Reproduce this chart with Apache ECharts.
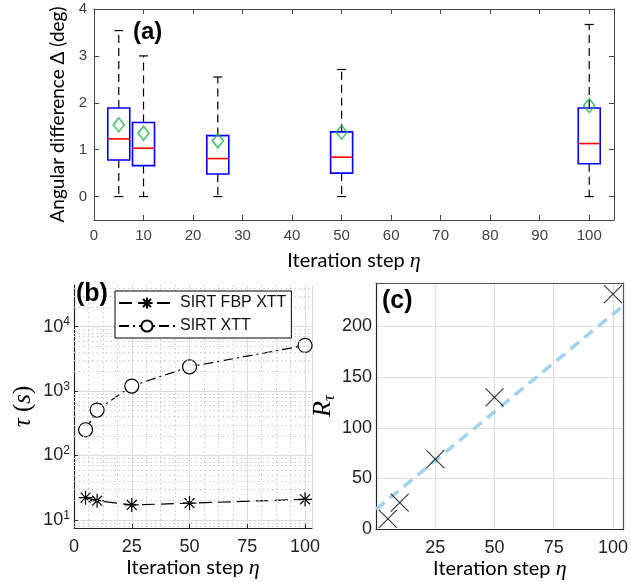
<!DOCTYPE html>
<html>
<head>
<meta charset="utf-8">
<script src="https://cdn.jsdelivr.net/npm/echarts@6/dist/echarts.min.js"></script>
<style>
html,body{margin:0;padding:0;background:#fff;}
#main{width:631px;height:582px;}
</style>
</head>
<body>
<div id="main"></div>
<script>
// ---- Panel (a): box plot statistics ----
const boxX    = [5, 10, 25, 50, 100];
const boxMin  = [0, 0, 0, 0, 0];
const boxQ1   = [0.78, 0.66, 0.48, 0.50, 0.70];
const boxMed  = [1.23, 1.03, 0.81, 0.84, 1.13];
const boxQ3   = [1.89, 1.58, 1.30, 1.38, 1.89];
const boxMax  = [3.54, 3.00, 2.55, 2.71, 3.67];
const boxMean = [1.53, 1.35, 1.19, 1.37, 1.94];
const aYTicks = [0, 1, 2, 3, 4];

// ---- Panel (b): computation time ----
const etaSteps = [5, 10, 25, 50, 100];
const tauFbpXtt = [22.2, 19.9, 17.1, 18.2, 20.9];
const tauSirtXtt = [251, 507, 1197, 2383, 5117];
const tauMajor = [10, 100, 1000, 10000];
const tauMinor = [8, 9, 20, 30, 40, 50, 60, 70, 80, 90, 200, 300, 400, 500, 600, 700, 800, 900,
                  2000, 3000, 4000, 5000, 6000, 7000, 8000, 9000, 20000, 30000, 40000];

// ---- Panel (c): ratio ----
const ratioVals = [10, 26, 69, 130, 232];
const fitX = [0, 104.5];
const fitY = [19.3, 221];

const chart = echarts.init(document.getElementById('main'), null, {renderer: 'canvas'});

const tickFont = 'Liberation Sans';
const nameFont = 'Lato';

const xNameRich = {
  t: {fontFamily: nameFont, fontSize: 20, color: '#000'},
  e: {fontFamily: 'Liberation Serif', fontStyle: 'italic', fontSize: 22, color: '#000'}
};

const boxData = boxX.map((x, i) => [x, boxMin[i], boxQ1[i], boxMed[i], boxQ3[i], boxMax[i]]);

function renderBox(params, api) {
  const x = api.value(0);
  const pMin = api.coord([x, api.value(1)]);
  const pQ1 = api.coord([x, api.value(2)]);
  const pMed = api.coord([x, api.value(3)]);
  const pQ3 = api.coord([x, api.value(4)]);
  const pMax = api.coord([x, api.value(5)]);
  const half = 11, cap = 4.5;
  const cx = pMed[0];
  const dash = {stroke: '#000', lineWidth: 1.2, lineDash: [8, 5]};
  const solid = {stroke: '#000', lineWidth: 1.2};
  return {
    type: 'group',
    children: [
      {type: 'line', shape: {x1: cx, y1: pQ3[1], x2: cx, y2: pMax[1]}, style: dash},
      {type: 'line', shape: {x1: cx, y1: pQ1[1], x2: cx, y2: pMin[1]}, style: dash},
      {type: 'line', shape: {x1: cx - cap, y1: pMax[1], x2: cx + cap, y2: pMax[1]}, style: solid},
      {type: 'line', shape: {x1: cx - cap, y1: pMin[1], x2: cx + cap, y2: pMin[1]}, style: solid},
      {type: 'rect', shape: {x: cx - half, y: pQ3[1], width: 2 * half, height: pQ1[1] - pQ3[1]},
        style: {fill: '#fff', stroke: '#0000ff', lineWidth: 1.6}},
      {type: 'line', shape: {x1: cx - half, y1: pMed[1], x2: cx + half, y2: pMed[1]},
        style: {stroke: '#ff0000', lineWidth: 1.6}}
    ]
  };
}

const asterisk = 'path://M0,-10L0,10M-10,0L10,0M-7.07,-7.07L7.07,7.07M-7.07,7.07L7.07,-7.07';
const cross = 'path://M-10,-10L10,10M-10,10L10,-10';

const option = {
  backgroundColor: '#fff',
  animation: false,
  grid: [
    {left: 94, top: 9, width: 520, height: 211},
    {left: 74, top: 285, width: 238, height: 243},
    {left: 376, top: 283, width: 252, height: 246}
  ],
  legend: {
    data: ['SIRT FBP XTT', 'SIRT XTT'],
    left: 115, top: 291,
    orient: 'vertical',
    itemWidth: 56, itemHeight: 14, itemGap: 7,
    padding: [4, 5, 4, 3],
    borderColor: '#000', borderWidth: 1, backgroundColor: '#fff',
    textStyle: {fontFamily: tickFont, fontSize: 16, color: '#111'},
    z: 10
  },
  xAxis: [
    { // (a) bottom
      gridIndex: 0, type: 'value', min: 0, max: 105, interval: 10,
      axisLine: {show: true, onZero: false, lineStyle: {color: '#444', width: 1}},
      axisTick: {show: true, inside: true, length: 5, lineStyle: {color: '#444'}},
      axisLabel: {fontFamily: tickFont, fontSize: 15, color: '#404040', margin: 8, showMaxLabel: false},
      splitLine: {show: false},
      name: '{t|Iteration step }{e|η}', nameLocation: 'middle', nameGap: 30,
      nameTextStyle: {rich: xNameRich}
    },
    { // (a) top frame
      gridIndex: 0, type: 'value', min: 0, max: 105, interval: 10, position: 'top',
      axisLine: {show: true, onZero: false, lineStyle: {color: '#444', width: 1}},
      axisTick: {show: true, inside: true, length: 5, lineStyle: {color: '#444'}},
      axisLabel: {show: false}, splitLine: {show: false}
    },
    { // (b)
      gridIndex: 1, type: 'value', min: 0, max: 103, interval: 25,
      axisLine: {show: true, onZero: false, lineStyle: {color: '#262626', width: 1.2}},
      axisTick: {show: true, inside: true, length: 4, lineStyle: {color: '#262626'}},
      minorTick: {show: false, splitNumber: 4},
      minorSplitLine: {show: true, lineStyle: {color: '#c8c8c8', type: [1.5, 3], width: 1}},
      axisLabel: {fontFamily: tickFont, fontSize: 18, color: '#222', margin: 10, showMaxLabel: false},
      splitLine: {show: true, lineStyle: {color: '#dcdcdc', width: 1}},
      name: '{t|Iteration step }{e|η}', nameLocation: 'middle', nameGap: 22,
      nameTextStyle: {rich: xNameRich}
    },
    { // (c) bottom
      gridIndex: 2, type: 'value', min: 0, max: 104.5, interval: 25,
      axisLine: {show: true, onZero: false, lineStyle: {color: '#262626', width: 1.2}},
      axisTick: {show: false},
      axisLabel: {fontFamily: tickFont, fontSize: 18, color: '#222', margin: 10, showMaxLabel: false, showMinLabel: false},
      splitLine: {show: true, lineStyle: {color: '#dcdcdc', width: 1}},
      name: '{t|Iteration step }{e|η}', nameLocation: 'middle', nameGap: 22,
      nameTextStyle: {rich: xNameRich}
    },
    { // (c) top frame
      gridIndex: 2, type: 'value', min: 0, max: 104.5, position: 'top',
      axisLine: {show: true, onZero: false, lineStyle: {color: '#555', width: 1.2}},
      axisTick: {show: false}, axisLabel: {show: false}, splitLine: {show: false}
    }
  ],
  yAxis: [
    { // (a) left
      gridIndex: 0, type: 'value', min: -0.5, max: 4,
      axisLine: {show: true, onZero: false, lineStyle: {color: '#444', width: 1}},
      axisTick: {show: true, inside: true, length: 5, lineStyle: {color: '#444'}, customValues: aYTicks},
      axisLabel: {fontFamily: tickFont, fontSize: 15, color: '#404040', margin: 7, customValues: aYTicks},
      splitLine: {show: false},
      name: 'Angular difference Δ (deg)', nameLocation: 'middle', nameGap: 21, nameRotate: 90,
      nameTextStyle: {fontFamily: nameFont, fontSize: 19, color: '#000'}
    },
    { // (a) right frame
      gridIndex: 0, type: 'value', min: -0.5, max: 4, position: 'right',
      axisLine: {show: true, onZero: false, lineStyle: {color: '#444', width: 1}},
      axisTick: {show: true, inside: true, length: 5, lineStyle: {color: '#444'}, customValues: aYTicks},
      axisLabel: {show: false}, splitLine: {show: false}
    },
    { // (b) log
      gridIndex: 1, type: 'log', logBase: 10, min: 7.5, max: 44300,
      axisLine: {show: true, onZero: false, lineStyle: {color: '#262626', width: 1.2}},
      axisTick: {show: true, inside: true, length: 4, lineStyle: {color: '#262626'}, customValues: tauMajor},
      axisLabel: {
        customValues: tauMajor, margin: 4,
        formatter: v => '{b|10}{s|' + Math.round(Math.log10(v)) + '}',
        rich: {
          b: {fontFamily: tickFont, fontSize: 18, color: '#222'},
          s: {fontFamily: tickFont, fontSize: 12, color: '#222', verticalAlign: 'top', padding: [0, 0, 9, 0]}
        }
      },
      splitLine: {show: true, lineStyle: {color: '#dcdcdc', width: 1}},
      name: '{e|τ}{n| (}{e|s}{n|)}', nameLocation: 'middle', nameGap: 38, nameRotate: 90,
      nameTextStyle: {rich: {
        e: {fontFamily: 'Liberation Serif', fontStyle: 'italic', fontSize: 25, color: '#000'},
        n: {fontFamily: 'Liberation Serif', fontSize: 25, color: '#000'}
      }}
    },
    { // (c) left
      gridIndex: 2, type: 'value', min: 0, max: 243, interval: 50,
      axisLine: {show: true, onZero: false, lineStyle: {color: '#262626', width: 1.2}},
      axisTick: {show: false},
      axisLabel: {fontFamily: tickFont, fontSize: 18, color: '#222', margin: 4, showMaxLabel: false},
      splitLine: {show: true, lineStyle: {color: '#dcdcdc', width: 1}},
      name: '{r|R}{s|τ}', nameLocation: 'middle', nameGap: 36, nameRotate: 90,
      nameTextStyle: {rich: {
        r: {fontFamily: 'Liberation Serif', fontStyle: 'italic', fontSize: 26, color: '#000', lineHeight: 30},
        s: {fontFamily: 'Liberation Serif', fontStyle: 'italic', fontSize: 17, color: '#000', lineHeight: 30, verticalAlign: 'bottom', padding: [10, 0, 0, 0]}
      }}
    },
    { // (c) right frame
      gridIndex: 2, type: 'value', min: 0, max: 243, position: 'right',
      axisLine: {show: true, onZero: false, lineStyle: {color: '#555', width: 1.2}},
      axisTick: {show: false}, axisLabel: {show: false}, splitLine: {show: false}
    }
  ],
  graphic: [
    {type: 'text', left: 133, top: 20, z: 20, style: {text: '(a)', font: 'bold 24px "Liberation Sans"', fill: '#000'}},
    {type: 'text', left: 76, top: 282, z: 20, style: {text: '(b)', font: 'bold 25px "Liberation Sans"', fill: '#000'}},
    {type: 'text', left: 382, top: 289, z: 20, style: {text: '(c)', font: 'bold 25px "Liberation Sans"', fill: '#000'}}
  ],
  series: [
    {
      name: 'box', type: 'custom', xAxisIndex: 0, yAxisIndex: 0,
      renderItem: renderBox, data: boxData,
      encode: {x: 0, y: [1, 2, 3, 4, 5]}, z: 3
    },
    {
      name: 'mean', type: 'scatter', xAxisIndex: 0, yAxisIndex: 0,
      data: boxX.map((x, i) => [x, boxMean[i]]),
      symbol: 'diamond', symbolSize: [11, 14],
      itemStyle: {color: 'rgba(0,0,0,0)', borderColor: '#1db34a', borderWidth: 1.6}, z: 5
    },
    {
      name: 'minorGrid', type: 'line', xAxisIndex: 2, yAxisIndex: 2, data: [], z: 1, silent: true,
      markLine: {
        silent: true, symbol: 'none', label: {show: false},
        lineStyle: {color: '#c8c8c8', type: [1.5, 3], width: 1},
        data: tauMinor.map(v => ({yAxis: v}))
      }
    },
    {
      name: 'SIRT FBP XTT', type: 'line', xAxisIndex: 2, yAxisIndex: 2,
      data: etaSteps.map((x, i) => [x, tauFbpXtt[i]]),
      symbol: asterisk, symbolSize: 14,
      itemStyle: {color: '#000', borderColor: '#000', borderWidth: 1.2},
      lineStyle: {color: '#000', width: 1.2, type: [13, 6]}, z: 4
    },
    {
      name: 'SIRT XTT', type: 'line', xAxisIndex: 2, yAxisIndex: 2,
      data: etaSteps.map((x, i) => [x, tauSirtXtt[i]]),
      symbol: 'circle', symbolSize: 14,
      itemStyle: {color: '#fff', borderColor: '#000', borderWidth: 1.2},
      lineStyle: {color: '#000', width: 1.2, type: [10, 4, 2, 4]}, z: 4
    },
    {
      name: 'fit', type: 'line', xAxisIndex: 3, yAxisIndex: 3,
      data: fitX.map((x, i) => [x, fitY[i]]),
      symbol: 'none', lineStyle: {color: '#a3d2ef', width: 3.5, type: [11, 7]}, z: 3
    },
    {
      name: 'ratio', type: 'scatter', xAxisIndex: 3, yAxisIndex: 3,
      data: etaSteps.map((x, i) => [x, ratioVals[i]]),
      symbol: cross, symbolSize: 18,
      itemStyle: {color: 'rgba(0,0,0,0)', borderColor: '#000', borderWidth: 1.1}, z: 4
    }
  ]
};

chart.setOption(option);
</script>
</body>
</html>
